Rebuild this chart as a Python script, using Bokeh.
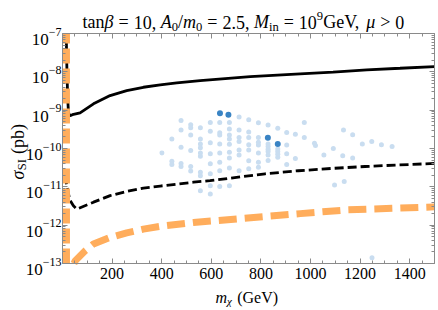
import math
import numpy as np
from bokeh.plotting import figure
from bokeh.models import (Range1d, FixedTicker, LogAxis, LinearAxis, Label,
                          CustomLabelingPolicy)
from bokeh.embed import file_html
from bokeh.resources import INLINE

# ---------------- data ----------------
# upper black solid curve
solid_m = [15, 18, 21, 24, 28, 31, 40, 71, 125, 192, 259, 326, 394, 461,
           555, 757, 958, 1091, 1227, 1361, 1500]
solid_sigma = [1.0e-7, 1.0e-8, 2.0e-9, 8.9e-10, 7.4e-10, 7.2e-10,
               7.6e-10, 8.5e-10, 1.46e-9, 2.40e-9, 3.25e-9, 3.96e-9, 4.58e-9,
               5.16e-9, 5.93e-9, 7.5e-9, 8.87e-9, 9.77e-9, 1.13e-8, 1.24e-8,
               1.37e-8]

# black dashed curve
dash_m = [12, 17, 30, 44, 58, 125, 192, 259, 326, 394, 528, 595, 817, 951,
          1086, 1220, 1354, 1500]
dash_sigma = [2.0e-11, 1.05e-11, 4.5e-12, 3.2e-12, 2.63e-12, 3.98e-12,
              5.9e-12, 7.6e-12, 9.3e-12, 1.05e-11, 1.32e-11, 1.45e-11,
              2.19e-11, 2.63e-11, 3.02e-11, 3.39e-11, 3.72e-11, 4.07e-11]

# orange thick dashed curve
orange_m = [46, 51, 91, 125, 192, 259, 326, 394, 528, 716, 959, 1146, 1500]
orange_sigma = [1.0e-13, 1.17e-13, 2.14e-13, 3.24e-13, 4.79e-13, 6.3e-13,
                7.9e-13, 9.3e-13, 1.17e-12, 1.48e-12, 2.0e-12, 2.5e-12, 3.0e-12]

# orange vertical line at low mass
vline_m = [16, 16]
vline_sigma = [1e-13, 1e-7]

# light blue scan points (m_chi, log10 sigma)
light_m = [478, 517, 517, 556, 596, 634, 673, 712, 751, 790, 829, 868, 904, 939,
           975, 975, 478, 517, 556, 596, 634, 634, 673, 673, 712, 712, 751, 751,
           790, 790, 829, 441, 478, 517, 556, 556, 596, 634, 673, 673, 712, 751,
           790, 829, 868, 868, 904, 939, 904, 401, 441, 441, 478, 478, 517, 556,
           556, 596, 596, 634, 634, 673, 673, 712, 712, 751, 751, 790, 790, 829,
           829, 904, 517, 556, 556, 596, 634, 673, 712, 751, 790, 556, 596, 596,
           634, 673, 829, 829, 868, 868, 1016, 1020, 1054, 1092, 1133, 1170,
           1130, 1170, 1209, 1247, 1286, 1329, 1097, 1136, 1248]
light_log_sigma = [-9.27, -9.38, -9.46, -9.46, -9.32, -9.32, -9.32, -9.18, -9.25,
                   -9.33, -9.39, -9.47, -9.58, -9.63, -9.32, -9.71, -9.52, -9.65,
                   -9.75, -9.55, -9.59, -9.65, -9.49, -9.65, -9.52, -9.71, -9.57,
                   -9.71, -9.71, -9.84, -9.88, -9.75, -9.97, -10.05, -9.88, -9.98,
                   -9.85, -9.88, -9.75, -9.89, -9.82, -9.90, -9.91, -10.02, -10.01,
                   -10.23, -10.14, -10.26, -9.91, -10.12, -10.33, -10.42, -10.39,
                   -10.47, -10.47, -10.12, -10.20, -10.14, -10.40, -10.12, -10.36,
                   -10.10, -10.25, -10.04, -10.17, -10.04, -10.32, -10.12, -10.36,
                   -10.17, -10.31, -10.42, -10.59, -10.62, -10.71, -10.66, -10.58,
                   -10.51, -10.58, -10.53, -10.49, -11.10, -10.97, -11.19, -10.99,
                   -10.97, -9.95, -10.08, -10.08, -10.15, -9.86, -9.92, -10.17,
                   -10.00, -9.52, -9.64, -10.19, -10.25, -9.88, -9.82, -9.90,
                   -9.95, -10.95, -10.86, -12.85]

# highlighted dark blue points
dark_m = [635, 669, 828, 868]
dark_log_sigma = [-9.08, -9.12, -9.72, -9.88]

x_lo, x_hi = 0, 1500
y_lo_dec, y_hi_dec = -13, -7
x_major = [200, 400, 600, 800, 1000, 1200, 1400]
y_decades = [-13, -12, -11, -10, -9, -8, -7]

# ---------------- layout (pixels of the data box inside the canvas) ----------------
W, H = 438, 310
BOX_L, BOX_R, BOX_T, BOX_B = 62, 434, 33, 263
SX = (BOX_R - BOX_L) / (x_hi - x_lo)
PXD = (BOX_B - BOX_T) / (y_hi_dec - y_lo_dec)
x_start = x_lo - BOX_L / SX
x_end = x_hi + (W - BOX_R) / SX
log_top = y_hi_dec + BOX_T / PXD
y_start = 10 ** (y_lo_dec - (H - BOX_B) / PXD)
y_end = 10 ** log_top


def dx(px):
    return x_start + px / SX


def dy(py):
    return 10 ** (log_top - py / PXD)


p = figure(width=W, height=H, x_range=Range1d(x_start, x_end),
           y_range=Range1d(y_start, y_end), y_axis_type="log", title=None,
           output_backend="svg", toolbar_location=None,
           min_border_left=0, min_border_right=0,
           min_border_top=0, min_border_bottom=0)
p.outline_line_color = None
p.xgrid.visible = False
p.ygrid.visible = False
p.background_fill_color = "white"
p.border_fill_color = "white"

AX = "#8a8a8a"
FONT = "Liberation Serif"

x_minor = list(range(x_lo, x_hi + 1, 50))
y_major = [10.0 ** e for e in y_decades]
y_minor = [k * 10.0 ** e for e in range(-13, -7) for k in range(1, 10)]

no_labels = CustomLabelingPolicy(code="""
for (const i of Array.from(indices)) { indices.unset(i) }
return indices
""")


def style_axis(ax, labels=True):
    ax.axis_line_color = AX
    ax.axis_line_width = 1
    ax.major_tick_line_color = AX
    ax.minor_tick_line_color = AX
    ax.major_tick_in = 5
    ax.major_tick_out = 0
    ax.minor_tick_in = 3
    ax.minor_tick_out = 0
    ax.major_label_text_font = FONT
    ax.major_label_text_font_size = "16px"
    ax.major_label_text_color = "black"
    if not labels:
        ax.major_label_policy = no_labels


xa = p.xaxis[0]
xa.ticker = FixedTicker(ticks=x_major, minor_ticks=x_minor)
style_axis(xa)
xa.major_label_standoff = 4
xa.fixed_location = 10.0 ** y_lo_dec
xa.bounds = (x_lo, x_hi)

ya = p.yaxis[0]
ya.ticker = FixedTicker(ticks=y_major, minor_ticks=y_minor)
style_axis(ya, labels=False)
ya.fixed_location = x_lo
ya.bounds = (10.0 ** y_lo_dec, 10.0 ** y_hi_dec)

top = LinearAxis(ticker=FixedTicker(ticks=x_major, minor_ticks=x_minor))
style_axis(top, labels=False)
top.fixed_location = 10.0 ** y_hi_dec
top.bounds = (x_lo, x_hi)
p.add_layout(top, "above")

right = LogAxis(ticker=FixedTicker(ticks=y_major, minor_ticks=y_minor))
style_axis(right, labels=False)
right.fixed_location = x_hi
right.bounds = (10.0 ** y_lo_dec, 10.0 ** y_hi_dec)
p.add_layout(right, "right")

# ---------------- marks ----------------
p.scatter(light_m, 10.0 ** np.array(light_log_sigma), size=5,
          color="#c9ddf0", line_color=None)
p.scatter(dark_m, 10.0 ** np.array(dark_log_sigma), size=6,
          color="#3a84c4", line_color=None)

p.line(solid_m, solid_sigma, line_color="black", line_width=2.8)
p.line(dash_m, dash_sigma, line_color="black", line_width=2.8, line_dash="9 4")
p.line(orange_m, orange_sigma, line_color="#ffad5c", line_width=7,
       line_dash="18 8")
p.line(vline_m, vline_sigma, line_color="#ffad5c", line_width=7,
       line_dash="15 5")

# ---------------- rich text (title / axis labels / y ticks) ----------------
W_REG = {' ': 250, ',': 250, '.': 250, '/': 278, '=': 564, '>': 564, '(': 333,
         ')': 333, 'a': 444, 'b': 500, 'e': 444, 'n': 500, 'p': 500, 't': 278,
         'i': 278, 'G': 722, 'V': 722, 'S': 556, 'I': 333, '\u2212': 564}
W_ITA = {'A': 611, 'm': 722, 'M': 833, 'β': 500, 'μ': 500, 'χ': 470, 'σ': 520,
         'i': 278, 'n': 500}


def text_width(s, size, italic):
    tbl = W_ITA if italic else W_REG
    return sum(tbl.get(c, W_REG.get(c, 500)) for c in s) * size / 1000.0


def put(txt, size, italic, px, py, angle=0.0, align="left"):
    p.add_layout(Label(x=dx(px), y=dy(py), angle=angle, text=txt,
                       text_font=FONT, text_font_size=f"{size}px",
                       text_font_style="italic" if italic else "normal",
                       text_color="black", text_align=align,
                       text_baseline="alphabetic"))


def rich(pieces, px, py, vertical=False):
    """pieces: (text, size, italic, shift) ; shift>0 lowers (subscript).
    A piece with text None is a gap of `size` pixels."""
    pos = 0.0
    for txt, size, italic, shift in pieces:
        if txt is None:
            pos += size
            continue
        if vertical:
            put(txt, size, italic, px + shift, py - pos, angle=math.pi / 2)
        else:
            put(txt, size, italic, px + pos, py + shift)
        pos += text_width(txt, size, italic)


T, S, G = 18, 12.6, 5.0
title_pieces = [
    ("tan", T, False, 0), ("β", T, True, 0), (None, G, 0, 0), ("=", T, False, 0),
    (None, G, 0, 0), ("10,", T, False, 0), (None, 4.5, 0, 0), ("A", T, True, 0),
    ("0", S, False, 4.5), ("/", T, False, 0), ("m", T, True, 0),
    ("0", S, False, 4.5), (None, G, 0, 0), ("=", T, False, 0), (None, G, 0, 0),
    ("2.5,", T, False, 0), (None, 4.5, 0, 0), ("M", T, True, 0),
    ("in", S, False, 4.5), (None, G, 0, 0), ("=", T, False, 0), (None, G, 0, 0),
    ("10", T, False, 0), ("9", S, False, -6.5), ("GeV,", T, False, 0),
    (None, 4.5, 0, 0), ("μ", T, True, 0), (None, G, 0, 0), (">", T, False, 0),
    (None, G, 0, 0), ("0", T, False, 0),
]
rich(title_pieces, 82, 21.5)

xl_pieces = [("m", 16, True, 0), ("χ", 11, True, 3.5), (None, 5, 0, 0),
             ("(GeV)", 16, False, 0)]
rich(xl_pieces, 215, 297)

yl_pieces = [("σ", 18, True, 0), ("SI", 12.6, False, 4), (None, 5, 0, 0),
             ("(pb)", 18, False, 0)]
rich(yl_pieces, 17, 179, vertical=True)

# y tick labels: "10" with a raised exponent, right-aligned at the axis
for e in y_decades:
    sup = "\u2212" + str(-e)
    ty = BOX_T + (y_hi_dec - e) * PXD
    base = ty + 6
    put(sup, 12, False, BOX_L - 1, base - 8, align="right")
    put("10", 17, False, BOX_L - 1 - text_width(sup, 12, False), base,
        align="right")

open("out.html", "w", encoding="utf-8").write(file_html(p, INLINE))
